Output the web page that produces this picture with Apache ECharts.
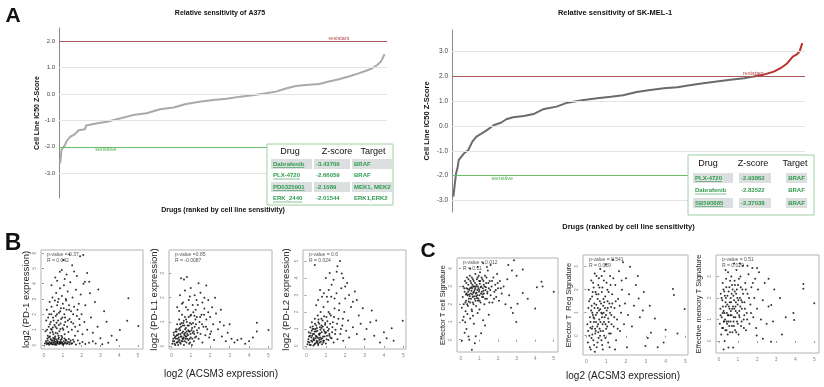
<!DOCTYPE html>
<html>
<head>
<meta charset="utf-8">
<script src="https://cdn.jsdelivr.net/npm/echarts@6/dist/echarts.min.js"></script>
<style>
  html, body { margin: 0; padding: 0; background: #fff; }
  #chart { width: 824px; height: 387px; }
</style>
</head>
<body>
<div id="chart"></div>
<script>
// Panel A: ranked drug sensitivity (rank position, IC50 z-score)
const a375Rank = [1, 2, 5, 6, 9, 12, 16, 21, 22, 31, 39, 50, 60, 71, 82, 93, 103, 114, 125, 136, 147, 157, 168, 176, 184, 192, 200, 211, 219, 227, 235, 243, 249, 254, 258, 261, 262, 264]
const a375Z = [-2.63, -2.12, -1.93, -1.8, -1.62, -1.55, -1.37, -1.34, -1.19, -1.11, -1.05, -0.92, -0.8, -0.73, -0.58, -0.51, -0.38, -0.29, -0.23, -0.18, -0.1, -0.05, 0.03, 0.09, 0.21, 0.3, 0.34, 0.38, 0.47, 0.56, 0.66, 0.78, 0.88, 0.97, 1.1, 1.22, 1.31, 1.51]
const skRank = [1, 2, 3, 4, 5, 6, 9, 12, 15, 18, 22, 26, 31, 36, 40, 45, 53, 60, 67, 77, 85, 97, 107, 117, 126, 136, 146, 156, 166, 175, 185, 195, 205, 215, 222, 229, 237, 242, 247, 251, 254, 256, 258]
const skZ = [-2.85, -2.38, -1.91, -1.71, -1.37, -1.31, -1.1, -0.97, -0.63, -0.43, -0.3, -0.16, 0.04, 0.13, 0.27, 0.35, 0.4, 0.48, 0.67, 0.78, 0.94, 1.05, 1.12, 1.18, 1.24, 1.37, 1.45, 1.52, 1.56, 1.64, 1.72, 1.79, 1.86, 1.92, 1.99, 2.06, 2.19, 2.33, 2.53, 2.8, 2.89, 3.0, 3.34]
const a375Ticks = [-3, -2, -1, 0, 1, 2]
const skTicks = [-3, -2, -1, 0, 1, 2, 3]
const resistantCut = 2

// tables
const a375Drugs = ['Dabrafenib', 'PLX-4720', 'PD0325901', 'ERK_2440']
const a375Scores = ['-3.43709', '-2.66059', '-2.1089', '-2.01544']
const a375Targets = ['BRAF', 'BRAF', 'MEK1, MEK2', 'ERK1,ERK2']
const skDrugs = ['PLX-4720', 'Dabrafenib', 'SB590885']
const skScores = ['-2.93862', '-2.83522', '-2.37038']
const skTargets = ['BRAF', 'BRAF', 'BRAF']

// Panels B/C: [log2 ACSM3, signature]
const xTicks = [0, 1, 2, 3, 4, 5]
const pd1Pts = [
  [0.05,0.1],[0.1,0.25],[0.15,0.05],[0.2,0.3],[0.22,0.12],[0.28,0.02],[0.3,0.2],[0.35,0.4],[0.38,0.08],[0.42,0.18],
  [0.45,0.3],[0.5,0.05],[0.52,0.15],[0.55,0.35],[0.6,0.1],[0.62,0.22],[0.66,0.02],[0.7,0.28],[0.72,0.12],[0.76,0.4],
  [0.8,0.06],[0.83,0.2],[0.88,0.32],[0.9,0.1],[0.95,0.18],[1.0,0.02],[1.05,0.25],[1.1,0.12],[1.15,0.35],[1.2,0.08],
  [1.28,0.2],[1.35,0.05],[1.42,0.3],[1.5,0.12],[1.6,0.22],[1.7,0.04],[1.8,0.3],[1.9,0.1],[2.05,0.2],[2.2,0.06],
  [2.4,0.15],[2.6,0.25],[2.75,0.1],[3.0,0.44],[3.42,0.15],[3.87,0.33],[3.1,0.05],
  [0.08,0.9],[0.12,1.6],[0.15,2.3],[0.2,0.6],[0.25,1.2],[0.28,2.0],[0.3,2.8],[0.33,0.8],[0.36,1.5],[0.4,2.5],
  [0.42,1.0],[0.45,3.1],[0.48,1.8],[0.5,0.7],[0.53,2.2],[0.56,1.3],[0.58,2.9],[0.6,0.55],[0.63,1.9],[0.65,3.4],
  [0.68,1.1],[0.7,2.6],[0.72,0.75],[0.75,1.6],[0.78,3.0],[0.8,2.1],[0.82,0.9],[0.85,3.7],[0.88,1.4],[0.9,2.4],
  [0.92,0.6],[0.95,3.2],[0.98,1.8],[1.0,2.7],[1.03,1.0],[1.06,3.9],[1.08,2.0],[1.1,0.7],[1.13,1.5],[1.16,3.0],
  [1.2,2.3],[1.23,1.2],[1.26,3.5],[1.3,0.85],[1.33,2.6],[1.36,1.7],[1.4,4.1],[1.44,2.2],[1.48,1.0],[1.52,3.1],
  [1.56,1.4],[1.6,2.5],[1.65,0.6],[1.7,3.6],[1.75,1.9],[1.8,0.9],[1.85,2.7],[1.9,1.3],[1.95,3.3],[2.0,2.0],
  [2.05,0.7],[2.1,4.0],[2.15,1.5],[2.2,2.6],[2.3,1.0],[2.41,4.13],[2.45,3.37],[2.5,1.8],[2.6,0.8],[2.71,2.81],
  [2.89,3.63],[3.33,1.52],[3.2,2.2],[4.04,0.98],[4.43,1.59],[4.49,3.05],[5.02,1.24],[3.6,0.6],[2.85,1.2],
  [0.85,4.78],[1.03,5.55],[1.92,5.8],[2.09,5.87],[2.18,4.13],[0.6,4.4],[1.2,4.6],[1.5,5.2],[1.35,5.9],[0.95,4.9],
  [1.75,4.5],[0.4,3.9],[1.6,4.8],[0.7,4.2],[2.3,4.7],[1.1,4.3],
  [0.32,0.55],[0.47,1.15],[0.57,0.45],[0.67,1.45],[0.77,0.6],[0.87,1.05],[0.97,0.5],[1.07,1.3],[0.37,1.05],[0.62,0.8],
  [0.14,0.15],[0.18,0.42],[0.24,0.08],[0.26,0.5],[0.34,0.12],[0.4,0.32],[0.44,0.05],[0.49,0.45],[0.54,0.25],[0.59,0.02],
  [0.64,0.38],[0.69,0.15],[0.74,0.22],[0.79,0.48],[0.84,0.1],[0.89,0.2],[0.94,0.4],[0.99,0.12],[1.04,0.06],[1.09,0.42],
  [1.14,0.18],[1.19,0.3],[1.25,0.12],[1.32,0.4],[1.38,0.18],[1.46,0.08],[1.55,0.35],[0.16,1.0],[0.22,1.8],[0.31,1.35],
  [0.39,2.0],[0.46,0.85],[0.51,1.6],[0.61,1.2],[0.69,2.0],[0.74,2.8],[0.79,1.3],[0.86,2.2],[0.91,1.7],[0.99,1.1],
  [1.05,2.4],[1.12,1.8],[1.18,2.9],[1.27,1.6],[1.34,2.3],[1.45,1.5],[1.55,2.0],[1.66,1.2],[1.78,2.3],[1.88,1.7]
]
const pdl1Pts = [
  [0.05,0.1],[0.1,0.3],[0.12,0.55],[0.15,0.2],[0.2,0.05],[0.22,0.4],[0.25,0.7],[0.28,0.15],[0.3,0.9],[0.33,0.3],
  [0.35,0.05],[0.38,0.5],[0.4,1.1],[0.42,0.25],[0.45,0.65],[0.48,0.1],[0.5,0.8],[0.52,0.4],[0.55,1.3],[0.58,0.2],
  [0.6,0.6],[0.62,0.95],[0.65,0.05],[0.68,0.45],[0.7,1.2],[0.72,0.3],[0.75,0.75],[0.78,0.15],[0.8,1.0],[0.82,0.5],
  [0.85,1.5],[0.88,0.25],[0.9,0.85],[0.92,0.1],[0.95,0.6],[0.98,1.25],[1.0,0.35],[1.03,0.9],[1.06,0.05],[1.1,0.55],
  [1.13,1.4],[1.16,0.2],[1.2,0.8],[1.24,1.1],[1.28,0.4],[1.32,0.65],[1.36,1.7],[1.4,0.3],[1.45,1.0],[1.5,0.5],
  [1.55,1.3],[1.6,0.15],[1.65,0.8],[1.7,1.55],[1.75,0.45],[1.8,1.1],[1.85,0.7],[1.9,1.9],[1.95,0.35],[2.0,1.2],
  [2.05,0.6],[2.1,1.6],[2.15,0.9],[2.2,0.25],[2.3,1.35],[2.4,0.7],[2.5,1.0],[2.6,0.4],[2.7,0.85],[2.8,0.2],
  [2.9,0.55],[3.1,0.3],[3.25,0.15],[3.4,0.25],[3.6,0.3],[3.8,0.1],[4.0,0.2],[4.2,0.35],[4.4,0.96],[4.4,0.6],
  [5.0,0.66],[3.0,0.9],[2.55,1.5],[2.25,2.0],
  [0.3,1.6],[0.45,2.1],[0.5,2.8],[0.6,1.8],[0.65,2.75],[0.7,2.3],[0.8,2.85],[0.9,1.9],[1.0,2.4],[1.1,1.7],
  [1.2,2.1],[1.3,1.9],[1.5,2.2],[1.6,1.8],[1.8,2.5],[1.7,2.0],[0.95,2.05],[0.4,1.45],[0.75,1.6],[1.25,1.5],
  [0.55,1.75],[1.4,2.6],
  [0.18,0.35],[0.27,0.6],[0.37,0.2],[0.47,0.5],[0.57,0.3],[0.67,0.85],[0.77,0.4],[0.87,0.65],[0.97,0.15],[1.07,0.75],
  [0.32,0.45],[0.52,0.95],[0.72,0.55],[1.18,0.5],[0.43,0.75],[0.63,0.35],
  [0.08,0.2],[0.13,0.45],[0.17,0.1],[0.21,0.6],[0.24,0.3],[0.29,0.45],[0.31,0.15],[0.36,0.7],[0.39,0.35],[0.44,0.15],
  [0.46,0.9],[0.49,0.4],[0.53,0.2],[0.56,0.55],[0.59,0.85],[0.61,0.3],[0.64,1.05],[0.66,0.5],[0.69,0.2],[0.71,0.7],
  [0.74,0.4],[0.76,1.1],[0.79,0.6],[0.81,0.3],[0.84,0.85],[0.86,0.45],[0.89,1.2],[0.91,0.6],[0.94,0.3],[0.96,0.95],
  [0.99,0.5],[1.02,1.3],[1.04,0.65],[1.08,0.3],[1.12,0.95],[1.15,0.6],[1.19,1.25],[1.22,0.35],[1.27,0.9],[1.31,1.2],
  [1.35,0.55],[1.42,0.75],[1.48,1.2],[1.58,0.9],[1.68,1.3],[1.78,0.8],[1.9,1.4],[2.0,0.5]
]
const pdl2Pts = [
  [0.05,0.1],[0.1,0.4],[0.12,0.8],[0.15,0.2],[0.2,1.1],[0.22,0.05],[0.25,0.5],[0.28,1.4],[0.3,0.25],[0.33,0.7],
  [0.36,0.02],[0.38,1.0],[0.4,0.35],[0.43,1.6],[0.45,0.15],[0.48,0.6],[0.5,1.2],[0.53,0.3],[0.56,0.9],[0.58,1.8],
  [0.6,0.05],[0.63,0.45],[0.66,1.3],[0.68,0.2],[0.7,0.75],[0.73,2.0],[0.76,0.4],[0.78,1.05],[0.8,0.1],[0.83,1.5],
  [0.86,0.55],[0.88,2.3],[0.9,0.3],[0.93,0.85],[0.96,1.25],[1.0,0.15],[1.03,1.7],[1.06,0.6],[1.1,2.6],[1.13,0.35],
  [1.16,1.0],[1.2,1.9],[1.24,0.5],[1.28,2.9],[1.32,0.8],[1.36,1.4],[1.4,0.2],[1.45,2.2],[1.5,0.95],[1.55,3.1],
  [1.6,0.4],[1.65,1.6],[1.7,2.5],[1.75,0.7],[1.8,3.4],[1.85,1.2],[1.9,0.3],[1.95,2.0],[2.0,2.8],[2.05,0.9],
  [2.1,3.7],[2.15,1.5],[2.2,0.5],[2.3,2.3],[2.4,1.1],[2.5,3.2],[2.6,0.7],[2.7,1.8],[2.8,1.3],[2.91,2.22],
  [3.0,0.4],[3.1,1.0],[3.37,2.08],[3.5,0.6],[3.6,1.5],[3.8,0.2],[4.14,0.45],[4.4,1.04],[4.97,1.49],[4.0,0.8],
  [3.3,1.4],[4.5,0.3],
  [0.43,4.76],[1.73,5.0],[1.56,4.37],[1.82,4.27],[1.3,3.6],[0.9,3.1],[1.0,4.0],[1.4,3.9],[0.6,2.7],[0.7,3.3],
  [1.15,3.3],[1.6,4.7],[2.0,3.5],[1.9,4.0],[0.8,2.9],[1.2,4.3],[2.2,3.0],[2.4,2.6],[1.05,2.9],[0.5,2.4],
  [1.45,2.8],[2.6,2.7],
  [0.18,0.6],[0.27,0.9],[0.37,0.45],[0.47,1.0],[0.57,0.25],[0.67,0.65],[0.77,1.2],[0.87,0.2],[0.97,0.75],[1.07,1.1],
  [0.32,1.15],[0.52,0.55],[0.72,0.95],[1.18,0.7],[0.42,0.85],[0.62,1.55],
  [0.08,0.25],[0.13,0.55],[0.17,0.05],[0.21,0.75],[0.24,0.3],[0.29,0.6],[0.31,1.0],[0.35,0.35],[0.39,0.7],[0.41,0.1],
  [0.44,1.3],[0.46,0.45],[0.49,0.85],[0.51,0.2],[0.54,1.05],[0.56,0.5],[0.59,0.15],[0.61,1.4],[0.64,0.7],[0.67,0.35],
  [0.69,1.1],[0.71,0.5],[0.74,0.25],[0.77,1.6],[0.79,0.8],[0.81,0.45],[0.84,1.15],[0.87,0.3],[0.89,0.95],[0.91,1.75],
  [0.94,0.55],[0.97,1.35],[1.01,0.8],[1.04,0.4],[1.08,1.45],[1.11,0.9],[1.14,2.0],[1.18,0.6],[1.22,1.3],[1.26,1.8],
  [1.3,0.45],[1.34,1.1],[1.42,1.7],[1.48,0.7],[1.58,1.3],[1.68,2.1],[1.78,1.0],[1.88,1.6]
]
const teffPts = [
  [0.05,1.8],[0.1,2.4],[0.12,3.0],[0.15,2.0],[0.2,2.7],[0.22,3.3],[0.25,1.6],[0.28,2.2],[0.3,2.9],[0.33,3.5],
  [0.36,2.5],[0.38,1.9],[0.4,3.1],[0.43,2.3],[0.45,2.8],[0.48,3.6],[0.5,2.1],[0.53,2.6],[0.55,3.2],[0.58,1.7],
  [0.6,2.9],[0.63,2.4],[0.65,3.4],[0.68,2.0],[0.7,2.7],[0.72,3.0],[0.75,2.3],[0.78,3.7],[0.8,2.6],[0.82,1.9],
  [0.85,3.1],[0.88,2.8],[0.9,3.5],[0.92,2.2],[0.95,2.9],[0.98,3.3],[1.0,2.5],[1.03,3.8],[1.06,2.1],[1.1,3.0],
  [1.13,2.7],[1.16,3.4],[1.2,2.4],[1.23,3.1],[1.26,2.0],[1.3,3.6],[1.33,2.8],[1.36,3.2],[1.4,2.3],[1.45,3.9],
  [1.5,2.9],[1.55,3.3],[1.6,2.5],[1.65,3.0],[1.7,2.1],[1.75,3.5],[1.8,2.7],[1.85,3.1],[1.9,2.4],[1.95,3.7],
  [2.0,2.9],[2.05,2.2],[2.1,3.3],[2.2,2.6],[2.3,3.0],[2.4,2.0],[2.5,3.4],[2.6,2.5],[2.7,1.8],[2.86,4.47],
  [3.33,3.95],[3.05,2.02],[3.33,2.63],[2.98,1.0],[2.8,1.5],[4.34,3.27],[4.4,3.0],[4.09,2.95],[4.0,1.76],[5.0,2.7],
  [3.6,2.3],[3.0,3.6],[2.55,4.2],[2.75,3.9],
  [0.05,-0.05],[0.59,-0.56],[0.41,0.18],[1.09,0.37],[0.23,0.98],[0.15,1.3],[0.3,0.6],[0.5,1.2],[0.7,0.9],[0.8,0.2],
  [0.9,1.5],[0.35,1.45],[0.6,1.6],[0.2,0.4],[1.2,1.1],[1.0,1.7],[0.45,0.0],[0.75,-0.2],[1.5,1.4],[1.3,0.8],
  [0.1,1.1],[0.65,1.35],
  [0.5,4.0],[1.2,4.3],[0.9,4.1],[1.6,4.2],[1.4,4.1],
  [0.27,2.55],[0.37,2.85],[0.47,2.45],[0.57,2.75],[0.67,2.65],[0.77,2.9],[0.87,2.35],[0.97,2.7],[1.07,2.95],[1.17,2.55],
  [0.42,2.15],[0.62,3.1],[0.82,2.45],[1.02,3.15],[1.22,2.75],[1.42,2.6],
  [0.18,2.9],[0.24,2.1],[0.29,3.2],[0.31,2.6],[0.34,2.0],[0.39,2.7],[0.41,3.4],[0.44,2.55],[0.49,2.9],[0.51,3.3],
  [0.54,2.3],[0.56,2.95],[0.59,3.5],[0.61,2.55],[0.64,2.1],[0.66,3.0],[0.69,3.3],[0.71,2.45],[0.74,2.8],[0.76,3.2],
  [0.79,2.2],[0.81,3.0],[0.84,2.65],[0.86,3.4],[0.89,2.5],[0.91,3.0],[0.94,2.3],[0.96,3.6],[0.99,2.8],[1.01,2.2],
  [1.04,3.3],[1.08,2.6],[1.11,3.5],[1.14,2.4],[1.18,2.9],[1.21,3.3],[1.24,2.6],[1.28,3.0],[1.31,2.3],[1.35,2.95],
  [1.38,3.5],[1.43,2.7],[1.48,3.2],[1.53,2.1],[1.58,2.8],[1.68,3.3],[1.78,2.3],[1.88,2.8],[1.98,3.2],[2.15,2.9]
]
const tregPts = [
  [0.05,0.5],[0.08,-0.3],[0.1,1.2],[0.12,2.0],[0.15,0.0],[0.18,0.8],[0.2,1.6],[0.22,-0.6],[0.25,2.4],[0.28,0.3],
  [0.3,1.0],[0.32,1.9],[0.35,-0.2],[0.38,0.6],[0.4,1.4],[0.42,2.7],[0.45,0.1],[0.48,0.9],[0.5,1.8],[0.52,-0.5],
  [0.55,0.4],[0.58,1.2],[0.6,2.2],[0.62,-0.1],[0.65,0.7],[0.68,1.5],[0.7,2.9],[0.72,0.2],[0.75,1.0],[0.78,1.9],
  [0.8,-0.4],[0.82,0.5],[0.85,1.3],[0.88,2.4],[0.9,0.0],[0.92,0.8],[0.95,1.7],[0.98,3.1],[1.0,0.3],[1.03,1.1],
  [1.06,2.0],[1.1,-0.3],[1.13,0.6],[1.16,1.4],[1.2,2.6],[1.23,0.1],[1.26,0.9],[1.3,1.8],[1.34,3.3],[1.38,0.4],
  [1.42,1.2],[1.46,2.2],[1.5,-0.2],[1.55,0.7],[1.6,1.6],[1.65,2.8],[1.7,0.2],[1.75,1.0],[1.8,2.0],[1.85,3.2],
  [1.9,0.5],[1.95,1.4],[2.0,2.5],[2.05,-0.5],[2.1,0.9],[2.15,1.8],[2.2,3.0],[2.3,0.4],[2.4,1.3],[2.5,2.2],
  [2.64,1.62],[2.7,0.8],[2.85,1.1],[2.98,-0.45],[3.26,0.13],[3.46,0.75],[3.1,-0.1],[4.37,2.03],[4.42,1.77],[4.96,1.16],
  [4.0,0.26],[3.9,-0.3],[3.2,1.3],[2.6,2.6],[2.9,1.9],[3.6,-0.5],[4.6,0.1],
  [0.27,1.3],[0.37,2.1],[0.47,0.2],[0.57,1.6],[0.67,0.3],[0.77,2.6],[0.87,1.0],[0.97,0.5],[1.07,1.5],[0.33,0.9],
  [0.63,2.5],[0.43,-0.7],[0.83,-0.6],[1.17,-0.5],[1.45,-0.6],
  [0.2,0.35],[0.4,0.75],[0.6,0.15],[0.7,1.15],[0.9,1.45],[1.1,0.75],[0.5,1.35],[0.3,0.05],[0.8,0.95],[1.25,1.25],
  [0.09,0.2],[0.14,1.5],[0.17,-0.5],[0.21,0.6],[0.24,1.1],[0.26,-0.1],[0.29,1.7],[0.31,0.4],[0.34,2.3],[0.36,0.8],
  [0.39,-0.4],[0.41,1.2],[0.44,0.3],[0.46,1.9],[0.49,0.6],[0.51,2.6],[0.54,1.0],[0.56,-0.3],[0.59,0.5],[0.61,1.8],
  [0.64,1.1],[0.66,2.1],[0.69,0.0],[0.71,0.6],[0.74,1.4],[0.76,-0.2],[0.79,0.8],[0.81,2.1],[0.84,0.2],[0.86,1.6],
  [0.89,0.6],[0.91,2.8],[0.94,1.2],[0.96,-0.1],[0.99,0.9],[1.02,2.3],[1.05,0.4],[1.08,1.2],[1.12,1.9],[1.15,0.1],
  [1.19,1.0],[1.22,2.2],[1.27,0.5],[1.31,1.4],[1.36,2.5],[1.41,0.8],[1.48,1.5],[1.58,0.3],[1.68,1.3],[1.78,2.4]
]
const temPts = [
  [0.05,0.8],[0.08,1.5],[0.1,2.2],[0.12,0.3],[0.15,1.1],[0.18,1.9],[0.2,2.7],[0.22,0.6],[0.25,1.4],[0.28,2.3],
  [0.3,0.0],[0.32,1.0],[0.35,1.8],[0.38,2.9],[0.4,0.5],[0.42,1.3],[0.45,2.1],[0.48,3.2],[0.5,0.9],[0.52,1.6],
  [0.55,2.5],[0.58,0.4],[0.6,1.2],[0.62,2.0],[0.65,3.0],[0.68,0.7],[0.7,1.5],[0.72,2.4],[0.75,-0.3],[0.78,1.1],
  [0.8,1.9],[0.82,2.8],[0.85,0.5],[0.88,1.4],[0.9,2.2],[0.92,3.3],[0.95,0.9],[0.98,1.7],[1.0,2.6],[1.03,0.3],
  [1.06,1.2],[1.1,2.0],[1.13,3.0],[1.16,0.7],[1.2,1.5],[1.23,2.4],[1.26,3.5],[1.3,1.0],[1.34,1.8],[1.38,2.7],
  [1.42,0.5],[1.46,1.3],[1.5,2.2],[1.55,3.1],[1.6,0.8],[1.65,1.7],[1.7,2.5],[1.75,3.4],[1.8,1.1],[1.85,2.0],
  [1.9,2.9],[1.95,0.6],[2.0,1.5],[2.05,2.4],[2.1,3.2],[2.2,1.0],[2.3,1.9],[2.4,2.7],[2.5,0.8],[2.6,1.6],
  [2.74,1.67],[2.83,0.9],[3.3,0.3],[2.73,-0.04],[1.98,0.25],[4.42,2.65],[4.42,2.43],[4.99,1.76],[3.9,1.3],[3.94,0.98],
  [3.2,2.0],[2.9,2.4],[3.5,1.1],[2.6,2.9],[2.3,0.1],[0.25,-0.4],[0.5,-0.3],[0.35,3.3],[1.1,3.6],[1.5,3.5],
  [0.8,3.6],[2.0,3.4],
  [0.27,0.9],[0.37,2.0],[0.47,1.2],[0.57,1.8],[0.67,2.2],[0.77,0.9],[0.87,1.6],[0.97,2.0],[1.07,1.4],[1.17,1.9],
  [0.43,0.8],[0.63,1.4],[0.83,2.3],[1.33,1.2],[0.2,1.3],
  [0.09,1.2],[0.14,2.0],[0.17,0.6],[0.21,1.6],[0.24,2.4],[0.26,0.9],[0.29,1.3],[0.31,2.1],[0.34,0.5],[0.36,1.6],
  [0.39,2.5],[0.41,0.9],[0.44,1.7],[0.46,0.3],[0.49,1.2],[0.51,2.3],[0.54,0.7],[0.56,1.5],[0.59,2.8],[0.61,0.9],
  [0.64,1.8],[0.66,1.2],[0.69,2.6],[0.71,0.4],[0.74,1.6],[0.76,2.1],[0.79,0.7],[0.81,1.5],[0.84,2.6],[0.86,1.1],
  [0.89,1.8],[0.91,0.4],[0.94,2.4],[0.96,1.3],[0.99,0.8],[1.02,1.9],[1.05,2.9],[1.08,1.1],[1.12,1.6],[1.15,2.5],
  [1.19,0.9],[1.22,1.8],[1.27,2.2],[1.31,0.6],[1.36,1.5],[1.41,2.4],[1.48,1.0],[1.58,2.0],[1.68,1.3],[1.78,2.7]
]

const FONT = '"Liberation Sans", Arial, sans-serif'

const scatterPanels = [
  { pts: pd1Pts, name: 'log2 (PD-1 expression)', stats: ['p-value = 0.37', 'R = 0.042'], box: [41, 250, 102, 99], x: [-0.16, 5.27], y: [-0.26, 6.2], yt: [0, 1, 2, 3, 4, 5, 6], gap: 10, size: 9.5 },
  { pts: pdl1Pts, name: 'log2 (PD-L1 expression)', stats: ['p-value =0.85', 'R = -0.0087'], box: [169, 250, 103, 99], x: [-0.12, 5.18], y: [-0.12, 3.97], yt: [0, 1, 2, 3], gap: 6, size: 9.5 },
  { pts: pdl2Pts, name: 'log2 (PD-L2 expression)', stats: ['p-value = 0.6', 'R = 0.024'], box: [303, 250, 103, 99], x: [-0.18, 5.14], y: [-0.18, 5.65], yt: [0, 1, 2, 3, 4, 5], gap: 12, size: 9.5 },
  { pts: teffPts, name: 'Effector T cell Signature', stats: ['p-value = 0.012', 'R = 0.11'], box: [457, 258, 101, 94], x: [-0.21, 5.23], y: [-0.69, 4.6], yt: [0, 1, 2, 3, 4], gap: 10, size: 7.5 },
  { pts: tregPts, name: 'Effector T  Reg Signature', stats: ['p-value = 0.541', 'R = 0.029'], box: [583, 255, 105, 100], x: [-0.17, 5.13], y: [-0.84, 3.51], yt: [0, 1, 2, 3], gap: 10, size: 7.5 },
  { pts: temPts, name: 'Effective memory T Signature', stats: ['p-value = 0.51', 'R = 0.029'], box: [716, 255, 103, 98], x: [-0.15, 5.24], y: [-0.56, 4.0], yt: [0, 1, 2, 3], gap: 13, size: 7.5 }
]

const chart = echarts.init(document.getElementById('chart'))

const grids = [
  { left: 59, top: 28, width: 328, height: 170, outerBoundsMode: 'none' },
  { left: 452, top: 30, width: 353, height: 182, outerBoundsMode: 'none' }
]
const xAxes = [
  {
    type: 'value', gridIndex: 0, min: 0, max: 266,
    axisLine: { show: false }, axisTick: { show: false }, axisLabel: { show: false }, splitLine: { show: false },
    name: 'Drugs (ranked by cell line sensitivity)', nameLocation: 'middle', nameGap: 9,
    nameTextStyle: { fontSize: 7, fontWeight: 'bold', color: '#111', fontFamily: FONT }
  },
  {
    type: 'value', gridIndex: 1, min: 0, max: 260,
    axisLine: { show: false }, axisTick: { show: false }, axisLabel: { show: false }, splitLine: { show: false },
    name: 'Drugs (ranked by cell line sensitivity)', nameLocation: 'middle', nameGap: 11,
    nameTextStyle: { fontSize: 7.5, fontWeight: 'bold', color: '#111', fontFamily: FONT }
  }
]
const yAxes = [
  {
    type: 'value', gridIndex: 0, min: -3.94, max: 2.5,
    axisLine: { show: true, lineStyle: { color: '#888', width: 1 } },
    axisTick: { show: false }, splitLine: { show: false },
    axisLabel: { customValues: a375Ticks, formatter: v => v.toFixed(1), fontSize: 6, color: '#444', margin: 4, fontFamily: FONT },
    name: 'Cell Line IC50 Z-Score', nameLocation: 'middle', nameGap: 18,
    nameTextStyle: { fontSize: 7, fontWeight: 'bold', color: '#111', fontFamily: FONT }
  },
  {
    type: 'value', gridIndex: 1, min: -3.47, max: 3.87,
    axisLine: { show: true, lineStyle: { color: '#888', width: 1 } },
    axisTick: { show: false }, splitLine: { show: false },
    axisLabel: { customValues: skTicks, formatter: v => v.toFixed(1), fontSize: 6.5, color: '#444', margin: 4, fontFamily: FONT },
    name: 'Cell Line IC50 Z-Score', nameLocation: 'middle', nameGap: 21,
    nameTextStyle: { fontSize: 7.5, fontWeight: 'bold', color: '#111', fontFamily: FONT }
  }
]

const refLines = (ticksGray) => ({
  silent: true,
  symbol: ['none', 'none'],
  label: { show: false },
  lineStyle: { type: 'solid', width: 1 },
  data: [
    ...ticksGray.map(v => ({ yAxis: v, lineStyle: { color: '#e4e4e4', type: 'solid', width: 1 } })),
    { yAxis: 2, lineStyle: { color: '#a85858', type: 'solid', width: 1 } },
    { yAxis: -2, lineStyle: { color: '#6cbd6c', type: 'solid', width: 1 } }
  ]
})

const refLabels = (resRank, senRank) => ({
  silent: true,
  symbol: 'circle',
  symbolSize: 0,
  itemStyle: { color: 'transparent' },
  data: [
    { coord: [resRank, 2], label: { show: true, formatter: 'resistant', position: 'top', distance: 0, color: '#b04848', fontSize: 5.5, fontFamily: FONT } },
    { coord: [senRank, -2], label: { show: true, formatter: 'sensitive', position: 'bottom', distance: 0, color: '#4caf50', fontSize: 5.5, fontFamily: FONT } }
  ]
})

// SK-MEL-1 curve split at the resistant cut (gray below, red above)
const skPts = skRank.map((r, i) => [r, skZ[i]])
const firstRed = skZ.findIndex(v => v > resistantCut)
const skGray = skPts.slice(0, firstRed + 1)
const skRed = skPts.slice(firstRed - 1)

const series = [
  {
    type: 'line', xAxisIndex: 0, yAxisIndex: 0, silent: true, showSymbol: false,
    data: a375Rank.map((r, i) => [r, a375Z[i]]),
    lineStyle: { color: '#a9a9a9', width: 2 }, z: 3,
    markLine: refLines([1, 0, -1, -3]), markPoint: refLabels(227, 38)
  },
  {
    type: 'line', xAxisIndex: 1, yAxisIndex: 1, silent: true, showSymbol: false,
    data: skGray,
    lineStyle: { color: '#6b6b6b', width: 2 }, z: 3,
    markLine: refLines([3, 1, 0, -1, -3]), markPoint: refLabels(222, 37)
  },
  {
    type: 'line', xAxisIndex: 1, yAxisIndex: 1, silent: true, showSymbol: false,
    data: skRed,
    lineStyle: { color: '#b8322c', width: 2 }, z: 4
  }
]

const graphics = []

scatterPanels.forEach((p) => {
  const gi = grids.length
  grids.push({ left: p.box[0], top: p.box[1], width: p.box[2], height: p.box[3], show: true, borderColor: '#b3b3b3', borderWidth: 1, backgroundColor: 'transparent', outerBoundsMode: 'none' })
  xAxes.push({
    type: 'value', gridIndex: gi, min: p.x[0], max: p.x[1],
    axisLine: { show: false }, splitLine: { show: false },
    axisTick: { show: true, customValues: xTicks, length: 2, lineStyle: { color: '#999' } },
    axisLabel: { customValues: xTicks, fontSize: 5, color: '#888', margin: 4, fontFamily: FONT }
  })
  yAxes.push({
    type: 'value', gridIndex: gi, min: p.y[0], max: p.y[1],
    axisLine: { show: false }, splitLine: { show: false },
    axisTick: { show: true, customValues: p.yt, length: 2, lineStyle: { color: '#999' } },
    axisLabel: { customValues: p.yt, fontSize: 5, color: '#888', margin: 4, rotate: 90, fontFamily: FONT },
    name: p.name, nameLocation: 'middle', nameGap: p.gap,
    nameTextStyle: { fontSize: p.size, color: '#222', fontFamily: FONT }
  })
  series.push({
    type: 'scatter', xAxisIndex: gi, yAxisIndex: gi, silent: true,
    data: p.pts, symbolSize: 2, itemStyle: { color: '#000' }
  })
  p.stats.forEach((s, j) => {
    graphics.push({ type: 'text', x: p.box[0] + 6, y: p.box[1] + 5 + j * 6, silent: true, style: { text: s, font: '5px ' + FONT, fill: '#555', align: 'left', verticalAlign: 'middle' } })
  })
})

// panel letters, titles and shared axis labels
const txt = (text, x, y, font, fill, align) => ({ type: 'text', x, y, silent: true, style: { text, font, fill: fill || '#111', align: align || 'center', verticalAlign: 'middle' } })
graphics.push(
  txt('A', 13, 16, 'bold 21px ' + FONT),
  txt('B', 13, 244, 'bold 23px ' + FONT),
  txt('C', 428, 251, 'bold 21px ' + FONT),
  txt('Relative sensitivity of A375', 220, 13, 'bold 7px ' + FONT),
  txt('Relative sensitivity of SK-MEL-1', 615, 13, 'bold 7.5px ' + FONT),
  txt('log2 (ACSM3 expression)', 221, 374, '10px ' + FONT, '#222'),
  txt('log2 (ACSM3 expression)', 623, 376, '10px ' + FONT, '#222')
)

// drug tables
const measure = document.createElement('canvas').getContext('2d')
function addTable(t, drugs, scores, targets) {
  graphics.push({ type: 'rect', silent: true, shape: { x: t.x, y: t.y, width: t.w, height: t.h }, style: { fill: '#fff', stroke: '#9fd09f', lineWidth: 1 }, z: 10 })
  const heads = ['Drug', 'Z-score', 'Target']
  heads.forEach((h, c) => graphics.push(Object.assign(txt(h, t.headX[c], t.headY, '9px ' + FONT, '#111'), { z: 11 })))
  drugs.forEach((d, r) => {
    const y = t.rowY[r]
    if (t.shade.includes(r)) {
      t.cells.forEach(cell => graphics.push({ type: 'rect', silent: true, shape: { x: cell[0], y: y - 5, width: cell[1] - cell[0], height: 10 }, style: { fill: '#dcdfe0' }, z: 11 }))
    }
    const f = 'bold 6px ' + FONT
    const vals = [d, scores[r], targets[r]]
    vals.forEach((v, c) => {
      const align = c === 2 ? t.targetAlign : 'left'
      const x = c === 2 && align === 'center' ? (t.cells[2][0] + t.cells[2][1]) / 2 : t.textX[c]
      graphics.push(Object.assign(txt(v, x, y, f, '#2f9a4c', align), { z: 12 }))
    })
    measure.font = f
    const w = measure.measureText(d).width
    graphics.push({ type: 'line', silent: true, shape: { x1: t.textX[0], y1: y + 3.5, x2: t.textX[0] + w, y2: y + 3.5 }, style: { stroke: '#2f9a4c', lineWidth: 0.6 }, z: 12 })
  })
}
addTable({ x: 267, y: 144, w: 126, h: 61, headY: 152, headX: [290, 337, 373], rowY: [164, 175.5, 187, 198.5], cells: [[271, 312], [314, 350], [352, 392]], textX: [273, 316, 354], shade: [0, 2], targetAlign: 'left' }, a375Drugs, a375Scores, a375Targets)
addTable({ x: 688, y: 155, w: 126, h: 60, headY: 164, headX: [708, 753, 795], rowY: [178, 190.5, 203], cells: [[693, 733], [739, 771], [786, 807]], textX: [695, 741, 796], shade: [0, 2], targetAlign: 'center' }, skDrugs, skScores, skTargets)

chart.setOption({
  backgroundColor: '#fff',
  animation: false,
  grid: grids,
  xAxis: xAxes,
  yAxis: yAxes,
  series,
  graphic: graphics
})
</script>
</body>
</html>
